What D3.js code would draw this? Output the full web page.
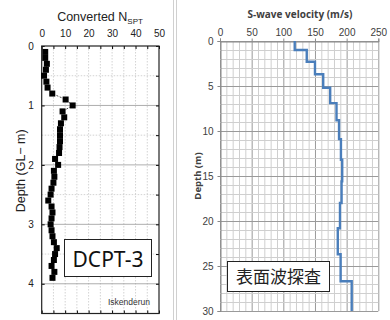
<!DOCTYPE html>
<html>
<head>
<meta charset="utf-8">
<script src="https://cdn.jsdelivr.net/npm/d3@7"></script>
<style>
  body { margin: 0; background: #fff; }
  svg { display: block; }
</style>
</head>
<body>
<svg id="chart"></svg>
<script>
// left panel: converted N_SPT vs depth (DCPT-3)
const nsptDepth = [0.1, 0.2, 0.3, 0.4, 0.5, 0.6, 0.7, 0.8, 0.9, 1.0, 1.1, 1.2, 1.3, 1.4, 1.5, 1.6, 1.7, 1.8, 1.9, 2.0,
  2.1, 2.2, 2.3, 2.4, 2.5, 2.6, 2.7, 2.8, 2.9, 3.0, 3.1, 3.2, 3.3, 3.4, 3.5, 3.6, 3.7, 3.8, 3.9];
const nsptValue = [1.5, 1.5, 2.2, 1.8, 1.0, 2.0, 2.5, 4.5, 10.2, 13.2, 8.9, 9.6, 8.2, 7.8, 7.8, 7.8, 7.6, 7.4, 5.7, 7.0,
  5.2, 5.4, 5.0, 4.2, 3.8, 2.8, 4.2, 4.6, 4.2, 3.8, 4.2, 4.6, 5.2, 6.4, 5.7, 5.2, 4.2, 5.4, 4.6];
const nsptTicks = [0, 10, 20, 30, 40, 50];
const depthTicksL = [0, 1, 2, 3, 4];

// right panel: S-wave velocity layers (top depth, bottom depth, Vs)
const layerTop = [0, 1.0, 2.3, 3.7, 5.2, 6.9, 8.8, 10.9, 13.2, 15.6, 18.0, 20.8, 23.7, 26.7];
const layerBottom = [1.0, 2.3, 3.7, 5.2, 6.9, 8.8, 10.9, 13.2, 15.6, 18.0, 20.8, 23.7, 26.7, 30];
const layerVs = [118, 137, 150, 163, 174, 184, 188, 191, 193, 192, 189.5, 186, 190.5, 208];
const vsTicks = [0, 50, 100, 150, 200, 250];
const depthTicksR = [0, 5, 10, 15, 20, 25, 30];

const W = 390, H = 320;
const svg = d3.select('#chart').attr('width', W).attr('height', H);

/* ---------- left panel ---------- */
const xL = d3.scaleLinear([0, 50], [41.7, 159]);
const yL = d3.scaleLinear([0, 4.5], [46, 313.5]);
const left = svg.append('g').attr('font-family', 'Liberation Sans, Arial, sans-serif');

// dotted grid
left.append('g')
  .selectAll('line')
  .data(d3.range(5, 50, 5))
  .join('line')
  .attr('x1', (d) => xL(d)).attr('x2', (d) => xL(d))
  .attr('y1', yL(0)).attr('y2', yL(4.5))
  .attr('stroke', '#c8c8c8').attr('stroke-width', 0.8).attr('stroke-dasharray', '1.5 1.5');
left.append('g')
  .selectAll('line')
  .data([0.5, 1.5, 2.5, 3.5])
  .join('line')
  .attr('x1', xL(0)).attr('x2', xL(50))
  .attr('y1', (d) => yL(d)).attr('y2', (d) => yL(d))
  .attr('stroke', '#c8c8c8').attr('stroke-width', 0.8).attr('stroke-dasharray', '1.5 1.5');
left.append('g')
  .selectAll('line')
  .data([1, 2, 3, 4])
  .join('line')
  .attr('x1', xL(0)).attr('x2', xL(50))
  .attr('y1', (d) => yL(d)).attr('y2', (d) => yL(d))
  .attr('stroke', '#999').attr('stroke-width', 0.8);

// top axis (labels) and inward ticks
const topAxis = d3.axisTop(xL).tickValues(d3.range(0, 55, 5)).tickSize(-3).tickPadding(9)
  .tickFormat((d) => (nsptTicks.includes(d) ? d : ''));
left.append('g')
  .attr('transform', `translate(0,${yL(0)})`)
  .call(topAxis)
  .call((g) => g.select('.domain').remove())
  .call((g) => g.selectAll('.tick line').attr('stroke', '#000'))
  .call((g) => g.selectAll('.tick text').attr('font-size', 10).attr('fill', '#222'));
left.append('g')
  .attr('transform', `translate(0,${yL(4.5)})`)
  .call(d3.axisBottom(xL).tickValues(d3.range(0, 55, 5)).tickSize(-3).tickFormat(''))
  .call((g) => g.select('.domain').remove());

const leftAxis = d3.axisLeft(yL).tickValues(depthTicksL).tickSize(-3).tickPadding(8).tickFormat(d3.format('d'));
left.append('g')
  .attr('transform', `translate(${xL(0)},0)`)
  .call(leftAxis)
  .call((g) => g.select('.domain').remove())
  .call((g) => g.selectAll('.tick text').attr('font-size', 10).attr('fill', '#222'));
left.append('g')
  .attr('transform', `translate(${xL(50)},0)`)
  .call(d3.axisRight(yL).tickValues(d3.range(0, 4.5, 0.5)).tickSize(-3).tickFormat(''))
  .call((g) => g.select('.domain').remove());

// frame
left.append('rect')
  .attr('x', xL(0)).attr('y', yL(0))
  .attr('width', xL(50) - xL(0)).attr('height', yL(4.5) - yL(0))
  .attr('fill', 'none').attr('stroke', '#222').attr('stroke-width', 1.2);

// titles
const tl = left.append('text').attr('x', 100).attr('y', 21).attr('text-anchor', 'middle')
  .attr('font-size', 12.5).attr('fill', '#222');
tl.append('tspan').text('Converted N');
tl.append('tspan').attr('font-size', 8).attr('dy', 3).text('SPT');
left.append('text')
  .attr('transform', `translate(25,${yL(2.1)}) rotate(-90)`)
  .attr('text-anchor', 'middle').attr('font-size', 12.5).attr('fill', '#222')
  .text('Depth (GL\u2212 m)');

// data: dashed connector + squares
const pts = nsptDepth.map((d, i) => [nsptValue[i], d]);
left.append('path')
  .attr('d', d3.line().x((p) => xL(p[0])).y((p) => yL(p[1]))(pts))
  .attr('fill', 'none').attr('stroke', '#000').attr('stroke-width', 0.7).attr('stroke-dasharray', '2 1.5');
left.append('g')
  .selectAll('rect')
  .data(pts)
  .join('rect')
  .attr('x', (p) => xL(p[0]) - 3).attr('y', (p) => yL(p[1]) - 3)
  .attr('width', 6).attr('height', 6).attr('fill', '#000');

// labels
left.append('rect').attr('x', 64.5).attr('y', 239.5).attr('width', 87).attr('height', 37)
  .attr('fill', '#fff').attr('stroke', '#222').attr('stroke-width', 1);
left.append('text').attr('x', 108).attr('y', 266.5).attr('text-anchor', 'middle')
  .attr('font-family', 'Noto Sans, sans-serif').attr('font-size', 21).attr('fill', '#111').text('DCPT-3');
left.append('text').attr('x', 150).attr('y', 305).attr('text-anchor', 'end')
  .attr('font-size', 8.5).attr('fill', '#333').text('Iskenderun');

// separators
svg.append('line').attr('x1', 173.5).attr('x2', 173.5).attr('y1', 0).attr('y2', H).attr('stroke', '#d0d0d0');
svg.append('line').attr('x1', 176.5).attr('x2', 176.5).attr('y1', 0).attr('y2', H).attr('stroke', '#d0d0d0');

/* ---------- right panel ---------- */
const xR = d3.scaleLinear([0, 250], [220, 378.3]);
const yR = d3.scaleLinear([0, 30], [41, 311]);
const right = svg.append('g').attr('font-family', 'Open Sans, Noto Sans, sans-serif');

right.append('g')
  .selectAll('line')
  .data(d3.range(0, 251, 10))
  .join('line')
  .attr('x1', (d) => xR(d) + 0.5).attr('x2', (d) => xR(d) + 0.5)
  .attr('y1', yR(0)).attr('y2', yR(30))
  .attr('stroke', (d) => (d % 50 === 0 ? '#9a9a9a' : '#cfcfcf')).attr('stroke-width', 1);
right.append('g')
  .selectAll('line')
  .data(d3.range(0, 31, 1))
  .join('line')
  .attr('x1', xR(0)).attr('x2', xR(250))
  .attr('y1', (d) => yR(d) + 0.5).attr('y2', (d) => yR(d) + 0.5)
  .attr('stroke', (d) => (d % 5 === 0 ? '#9a9a9a' : '#cfcfcf')).attr('stroke-width', 1);

right.append('g')
  .attr('transform', `translate(0,${yR(0) + 0.5})`)
  .call(d3.axisTop(xR).tickValues(vsTicks).tickSize(3).tickPadding(3))
  .call((g) => g.select('.domain').attr('stroke', '#888'))
  .call((g) => g.selectAll('.tick line').attr('stroke', '#888'))
  .call((g) => g.selectAll('.tick text').attr('font-size', 10).attr('fill', '#404040'));
right.append('g')
  .attr('transform', `translate(${xR(0) + 0.5},0)`)
  .call(d3.axisLeft(yR).tickValues(depthTicksR).tickSize(3).tickPadding(4))
  .call((g) => g.select('.domain').attr('stroke', '#888'))
  .call((g) => g.selectAll('.tick line').attr('stroke', '#888'))
  .call((g) => g.selectAll('.tick text').attr('font-size', 10).attr('fill', '#404040'));

// step line
const steps = [];
layerVs.forEach((v, i) => {
  steps.push([v, layerTop[i]]);
  steps.push([v, layerBottom[i]]);
});
right.append('path')
  .attr('d', d3.line().x((p) => xR(p[0])).y((p) => yR(p[1]))(steps))
  .attr('fill', 'none').attr('stroke', '#4a7ebb').attr('stroke-width', 2.4).attr('stroke-linejoin', 'miter');

right.append('text').attr('x', 300).attr('y', 18).attr('text-anchor', 'middle')
  .attr('font-size', 10).attr('font-weight', 'bold').attr('fill', '#404040').text('S-wave velocity (m/s)');
right.append('text')
  .attr('transform', `translate(201,${yR(15)}) rotate(-90)`)
  .attr('text-anchor', 'middle').attr('font-size', 9.5).attr('font-weight', 'bold').attr('fill', '#404040')
  .text('Depth (m)');

right.append('rect').attr('x', 227.5).attr('y', 261.5).attr('width', 102).attr('height', 30)
  .attr('fill', '#fff').attr('stroke', '#222').attr('stroke-width', 1);
right.append('text').attr('x', 278.5).attr('y', 283).attr('text-anchor', 'middle')
  .attr('font-family', 'Noto Sans CJK JP, sans-serif').attr('font-size', 17).attr('fill', '#222').text('表面波探査');
</script>
</body>
</html>
